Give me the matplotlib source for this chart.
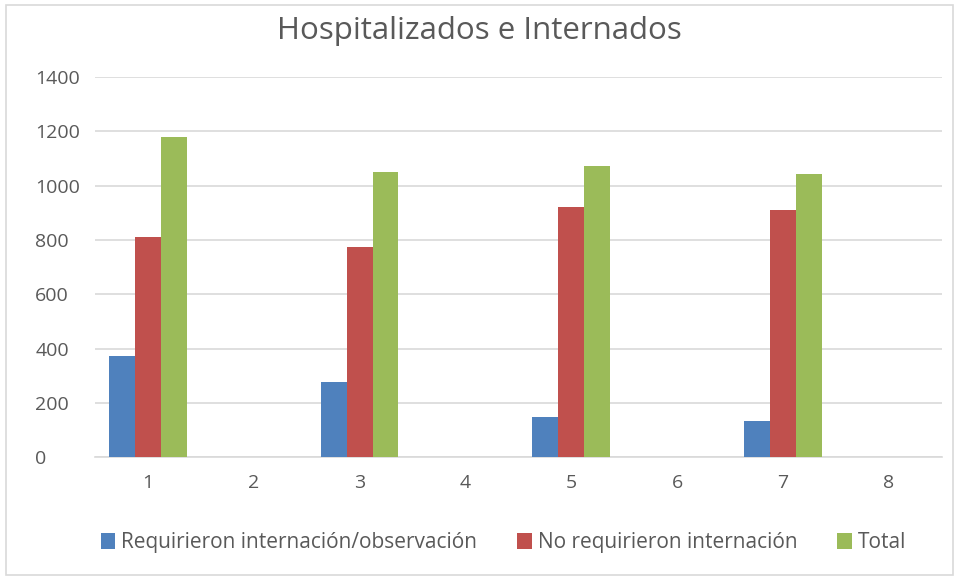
import matplotlib
matplotlib.use("Agg")
import matplotlib.pyplot as plt
import numpy as np
from matplotlib.patches import Rectangle

plt.rcParams['font.family'] = ['Open Sans', 'DejaVu Sans']

categories = ["1", "2", "3", "4", "5", "6", "7", "8"]
requirieron = [372, 0, 276, 0, 148, 0, 134, 0]
no_requirieron = [809, 0, 775, 0, 922, 0, 909, 0]
total = [1178, 0, 1049, 0, 1073, 0, 1042, 0]
series_names = ["Requirieron internación/observación", "No requirieron internación", "Total"]
colors = ["#4f81bd", "#c0504d", "#9bbb59"]
yticks = [0, 200, 400, 600, 800, 1000, 1200, 1400]

fig = plt.figure(figsize=(9.59, 5.78), dpi=100)
ax = fig.add_axes([0.099, 0.209, 0.883, 0.658])

x = np.arange(len(categories))
w = 0.245
for i, (vals, name, c) in enumerate(zip([requirieron, no_requirieron, total], series_names, colors)):
    ax.bar(x + (i - 1) * w, vals, width=w, color=c, label=name, zorder=3)

ax.set_xlim(-0.5, len(categories) - 0.5)
ax.set_ylim(0, 1400)
ax.set_yticks(yticks)
ax.set_xticks(x)
ax.set_xticklabels(categories)
ax.yaxis.grid(True, color="#d9d9d9", linewidth=1.2, zorder=0)
ax.set_axisbelow(True)
for s in ["top", "right", "left"]:
    ax.spines[s].set_visible(False)
ax.spines["bottom"].set_color("#d9d9d9")
ax.spines["bottom"].set_linewidth(1.2)
ax.tick_params(axis="both", length=0, labelsize=14, labelcolor="#595959")
ax.tick_params(axis="x", pad=12)
ax.tick_params(axis="y", pad=43)
for lbl in ax.get_yticklabels():
    lbl.set_horizontalalignment("left")

fig.text(0.5, 0.946, "Hospitalizados e Internados", ha="center", va="center",
         fontsize=22.5, color="#595959")

leg = fig.legend(loc="center", bbox_to_anchor=(0.525, 0.061), ncol=3, frameon=False,
                 fontsize=15, handlelength=0.7, handleheight=0.85, handletextpad=0.3,
                 columnspacing=1.9)
for t in leg.get_texts():
    t.set_color("#595959")

fig.patches.append(Rectangle((0.006, 0.006), 0.988, 0.985, transform=fig.transFigure,
                             fill=False, edgecolor="#d9d9d9", linewidth=1.2))

fig.savefig("out.png", dpi=100)
